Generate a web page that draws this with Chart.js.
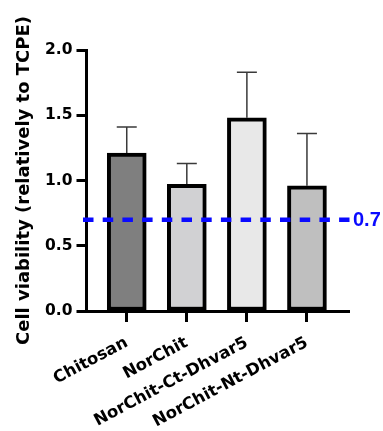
<!DOCTYPE html>
<html>
<head>
<meta charset="utf-8">
<script src="https://cdn.jsdelivr.net/npm/chart.js@4.4.1/dist/chart.umd.min.js"></script>
<style>
html,body{margin:0;padding:0;background:#fff;}
canvas{display:block;}
</style>
</head>
<body>
<canvas id="c" width="383" height="431" style="width:383px;height:431px"></canvas>
<script>
const categories = ["Chitosan", "NorChit", "NorChit-Ct-Dhvar5", "NorChit-Nt-Dhvar5"];
const meanValues = [1.21, 0.97, 1.48, 0.96];
const sdValues = [0.20, 0.16, 0.35, 0.40];
const yTicks = [0.0, 0.5, 1.0, 1.5, 2.0];
const thresholdValue = 0.7;
const barColors = ["#7f7f7f", "#d1d1d3", "#e8e8e8", "#bfbfbf"];

const points = categories.map((c, i) => ({x: i, y: meanValues[i]}));

const errorBarPlugin = {
  id: 'errorBars',
  beforeDatasetsDraw(chart) {
    const ctx = chart.ctx;
    const xs = chart.scales.x, ys = chart.scales.y;
    ctx.save();
    ctx.strokeStyle = '#3a3a3a';
    ctx.lineWidth = 1.5;
    categories.forEach((c, i) => {
      const x = xs.getPixelForValue(i);
      const y0 = ys.getPixelForValue(meanValues[i]);
      const y1 = ys.getPixelForValue(meanValues[i] + sdValues[i]);
      ctx.beginPath();
      ctx.moveTo(x, y0);
      ctx.lineTo(x, y1);
      ctx.moveTo(x - 10, y1);
      ctx.lineTo(x + 10, y1);
      ctx.stroke();
    });
    ctx.restore();
  }
};

const thresholdPlugin = {
  id: 'threshold',
  afterDatasetsDraw(chart) {
    const ctx = chart.ctx;
    const area = chart.chartArea;
    const y = chart.scales.y.getPixelForValue(thresholdValue);
    ctx.save();
    ctx.strokeStyle = '#0a0aff';
    ctx.lineWidth = 4.5;
    ctx.setLineDash([10.5, 9.2]);
    ctx.beginPath();
    ctx.moveTo(area.left - 3.5, y);
    ctx.lineTo(area.right + 0.5, y);
    ctx.stroke();
    ctx.setLineDash([]);
    ctx.fillStyle = '#0a0aff';
    ctx.font = 'bold 20px "Liberation Sans", Arial, sans-serif';
    ctx.textAlign = 'left';
    ctx.textBaseline = 'middle';
    ctx.fillText(thresholdValue.toFixed(1), area.right + 4, y + 1);
    ctx.restore();
  }
};

new Chart(document.getElementById('c'), {
  type: 'bar',
  data: {
    datasets: [{
      data: points,
      backgroundColor: barColors,
      borderColor: '#000',
      borderWidth: 4,
      borderSkipped: false,
      barThickness: 39
    }]
  },
  options: {
    responsive: false,
    devicePixelRatio: 1,
    animation: false,
    layout: {padding: {left: 0, top: 50, right: 34, bottom: 0}},
    plugins: {legend: {display: false}, tooltip: {enabled: false}},
    scales: {
      x: {
        type: 'linear',
        offset: false,
        bounds: 'data',
        min: -0.67,
        max: 3.7,
        afterBuildTicks(scale) { scale.ticks = categories.map((c, i) => ({value: i})); },
        afterFit(scale) { scale.height = 120; },
        grid: {offset: false, drawOnChartArea: false, drawTicks: true, tickLength: 11, tickWidth: 3, tickColor: '#000'},
        border: {display: true, width: 3, color: '#000'},
        ticks: {
          autoSkip: false,
          minRotation: 28,
          maxRotation: 28,
          padding: 11,
          color: '#000',
          font: {family: 'DejaVu Sans', weight: 'bold', size: 16.5},
          callback: (v) => categories[v]
        }
      },
      y: {
        min: 0,
        max: 2,
        afterBuildTicks(scale) { scale.ticks = yTicks.map(v => ({value: v})); },
        afterFit(scale) { scale.width = 86.5; },
        grid: {drawOnChartArea: false, drawTicks: true, tickLength: 10, tickWidth: 3, tickColor: '#000'},
        border: {display: true, width: 3, color: '#000'},
        ticks: {
          padding: 4,
          color: '#000',
          font: {family: 'DejaVu Sans', weight: 'bold', size: 15.5},
          callback: (v) => Number(v).toFixed(1)
        },
        title: {
          display: true,
          text: 'Cell viability (relatively to TCPE)',
          color: '#000',
          font: {family: 'DejaVu Sans', weight: 'bold', size: 18},
          padding: {top: 13.5, bottom: 0}
        }
      }
    }
  },
  plugins: [errorBarPlugin, thresholdPlugin]
});
</script>
</body>
</html>
